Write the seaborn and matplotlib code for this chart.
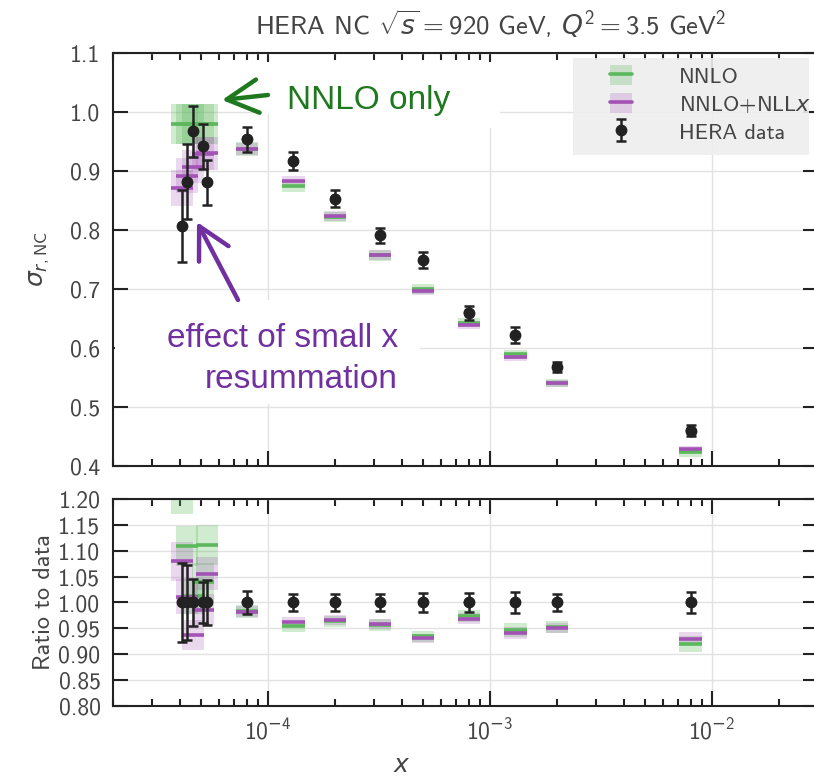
import numpy as np
import matplotlib
matplotlib.use("Agg")
import matplotlib.pyplot as plt
import matplotlib.ticker as mticker
import seaborn as sns
from matplotlib.lines import Line2D
from matplotlib.patches import Patch, Rectangle, FancyArrowPatch, ArrowStyle

# ---------------- data ----------------
x_vals = np.array([4.1e-5, 4.3e-5, 4.6e-5, 5.1e-5, 5.3e-5, 8.0e-5, 1.3e-4, 2.0e-4,
                   3.2e-4, 5.0e-4, 8.0e-4, 1.3e-3, 2.0e-3, 8.0e-3])
hera_data = np.array([0.807, 0.882, 0.967, 0.942, 0.881, 0.954, 0.917, 0.853,
                      0.791, 0.749, 0.660, 0.622, 0.568, 0.460])
hera_err = np.array([0.061, 0.064, 0.044, 0.038, 0.038, 0.021, 0.015, 0.014,
                     0.013, 0.014, 0.012, 0.013, 0.009, 0.009])
nnlo = np.array([0.979, 0.979, 0.979, 0.979, 0.979, 0.938, 0.875, 0.822,
                 0.757, 0.700, 0.643, 0.589, 0.541, 0.423])
nnlo_err = np.array([0.034, 0.034, 0.034, 0.034, 0.034, 0.012, 0.010, 0.009,
                     0.009, 0.008, 0.008, 0.008, 0.007, 0.007])
nllx = np.array([0.871, 0.892, 0.907, 0.929, 0.930, 0.937, 0.883, 0.824,
                 0.758, 0.697, 0.639, 0.585, 0.540, 0.428])
nllx_err = np.array([0.030, 0.030, 0.028, 0.028, 0.028, 0.010, 0.008, 0.008,
                     0.008, 0.007, 0.007, 0.007, 0.006, 0.006])

labels = ["NNLO", r"NNLO+NLL$x$", "HERA data"]
top_yticks = [0.4, 0.5, 0.6, 0.7, 0.8, 0.9, 1.0, 1.1]
bot_yticks = [0.80, 0.85, 0.90, 0.95, 1.00, 1.05, 1.10, 1.15, 1.20]

# ---------------- style ----------------
sns.set_style("ticks")
plt.rcParams["font.family"] = ["cmss10", "DejaVu Sans"]
plt.rcParams["mathtext.fontset"] = "custom"
plt.rcParams["mathtext.rm"] = "cmss10"
plt.rcParams["mathtext.sf"] = "cmss10"
plt.rcParams["mathtext.it"] = "DejaVu Sans:italic"
plt.rcParams["mathtext.bf"] = "DejaVu Sans:bold"
plt.rcParams["mathtext.tt"] = "DejaVu Sans"
plt.rcParams["axes.unicode_minus"] = False

GREEN = "#5cb85c"
PURPLE = "#a352b5"
DATA_C = "#222222"
TXT = "#444444"
ANN_GREEN = "#1e781e"
ANN_PURPLE = "#7030a0"

W, H = 814, 782
fig = plt.figure(figsize=(W / 100, H / 100), dpi=100)


def fx(px):
    return px / W


def fy(py):
    return 1 - py / H


L, R = 113, 818
ax1 = fig.add_axes([fx(L), fy(466), (R - L) / W, (466 - 53) / H])
ax2 = fig.add_axes([fx(L), fy(706), (R - L) / W, (706 - 499) / H], sharex=ax1)

for ax in (ax1, ax2):
    ax.set_xscale("log")
ax1.set_xlim(2e-5, 3e-2)

half = 10 ** 0.05
lo = x_vals / half
hi = x_vals * half


def draw_panel(ax, nn, nn_e, nl, nl_e, d, d_e):
    ax.bar(lo, 2 * nn_e, width=hi - lo, bottom=nn - nn_e, align="edge",
           color=GREEN, alpha=0.28, linewidth=0, zorder=1)
    ax.bar(lo, 2 * nl_e, width=hi - lo, bottom=nl - nl_e, align="edge",
           color=PURPLE, alpha=0.22, linewidth=0, zorder=1)
    ax.hlines(nn, lo, hi, color=GREEN, lw=2.6, zorder=2)
    ax.hlines(nl, lo, hi, color=PURPLE, lw=2.6, zorder=2)
    eb = ax.errorbar(x_vals, d, yerr=d_e, fmt="o", color=DATA_C, ms=7.5,
                     elinewidth=1.8, capsize=3.4, capthick=1.8, zorder=3)
    sns.scatterplot(x=x_vals, y=d, ax=ax, color=DATA_C, s=52,
                    edgecolor="none", zorder=4, legend=False)
    return eb


eb = draw_panel(ax1, nnlo, nnlo_err, nllx, nllx_err, hera_data, hera_err)
draw_panel(ax2, nnlo / hera_data, nnlo_err / hera_data,
           nllx / hera_data, nllx_err / hera_data,
           hera_data / hera_data, hera_err / hera_data)

ax1.set_ylim(0.4, 1.1)
ax2.set_ylim(0.8, 1.2)
ax1.set_yticks(top_yticks)
ax2.set_yticks(bot_yticks)
ax1.yaxis.set_major_formatter(mticker.FormatStrFormatter("%.1f"))
ax2.yaxis.set_major_formatter(mticker.FormatStrFormatter("%.2f"))


def log_fmt(v, pos):
    e = int(round(np.log10(v)))
    if e < 0:
        return r"$10^{\mathtt{-}%d}$" % (-e)
    return r"$10^{%d}$" % e


for ax in (ax1, ax2):
    ax.xaxis.set_major_locator(mticker.LogLocator(base=10, numticks=20))
    ax.xaxis.set_minor_locator(mticker.LogLocator(base=10, subs=np.arange(2, 10), numticks=20))
    ax.xaxis.set_major_formatter(mticker.FuncFormatter(log_fmt))
    ax.yaxis.set_minor_locator(mticker.NullLocator())
    ax.tick_params(which="both", direction="in", top=True, right=True,
                   width=1.5, color=DATA_C, labelcolor=TXT, labelsize=17)
    ax.tick_params(which="major", length=10.5)
    ax.tick_params(which="minor", length=5)
    ax.tick_params(axis="y", pad=9)
    ax.tick_params(axis="x", pad=9)
    ax.grid(True, which="major", color="#e2e2e2", lw=1.0)
    ax.set_axisbelow(True)
    for s in ax.spines.values():
        s.set_linewidth(1.5)
        s.set_color(DATA_C)
ax1.tick_params(labelbottom=False)

ax1.set_ylabel(r"$\sigma_{r,\mathrm{NC}}$", fontsize=18, color=TXT)
ax1.yaxis.set_label_coords((52 - L) / (R - L), 0.5)
ax2.set_ylabel("Ratio to data", fontsize=17.5, color=TXT)
ax2.yaxis.set_label_coords((55 - L) / (R - L), 0.5)
ax2.set_xlabel(r"$x$", fontsize=18, color=TXT)
ax2.xaxis.set_label_coords((402 - L) / (R - L), (706 - 754) / (706 - 499))

# legend
bg = Rectangle(((573 - L) / (R - L), 1 - (155 - 53) / 413), (809 - 573) / (R - L),
               (155 - 58) / 413, transform=ax1.transAxes, facecolor="#eeeeee",
               edgecolor="none", alpha=0.9, zorder=4.5)
ax1.add_patch(bg)
h_nn = (Patch(facecolor=GREEN, alpha=0.28, lw=0), Line2D([], [], color=GREEN, lw=2.6))
h_nl = (Patch(facecolor=PURPLE, alpha=0.22, lw=0), Line2D([], [], color=PURPLE, lw=2.6))
leg = ax1.legend([h_nn, h_nl, eb], labels, loc="upper left",
                 bbox_to_anchor=((610 - L) / (R - L), 1 - (65 - 53) / 413),
                 frameon=False, fontsize=16, handlelength=1.0, handleheight=1.0,
                 handletextpad=2.1, labelspacing=0.3, borderpad=0, borderaxespad=0)
for t in leg.get_texts():
    t.set_color(TXT)
leg.set_zorder(5)

# title
fig.text(fx(491), fy(24), r"HERA NC $\sqrt{s} = 920$ GeV, $Q^2 = 3.5$ GeV$^2$",
         ha="center", va="center", fontsize=19.2, color=TXT)

# white annotation boxes
for (x0, y0, x1, y1) in [(262, 62, 290, 114), (280, 62, 500, 128), (115, 300, 420, 404)]:
    fig.patches.append(Rectangle((fx(x0), fy(y1)), (x1 - x0) / W, (y1 - y0) / H,
                                 transform=fig.transFigure, facecolor="white",
                                 edgecolor="none", zorder=5))

# annotations
fig.text(fx(287), fy(109), "NNLO only", ha="left", va="baseline",
         fontsize=24, color=ANN_GREEN, family="Liberation Sans", zorder=7)
fig.text(fx(398), fy(347), "effect of small x", ha="right", va="baseline",
         fontsize=24, color=ANN_PURPLE, family="Liberation Sans", zorder=7)
fig.text(fx(398), fy(388), "resummation", ha="right", va="baseline",
         fontsize=24, color=ANN_PURPLE, family="Liberation Sans", zorder=7)

style = ArrowStyle("->", head_length=0.75, head_width=0.4)
fig.patches.append(FancyArrowPatch((fx(268), fy(95)), (fx(222), fy(100)),
                                   transform=fig.transFigure, arrowstyle=style,
                                   mutation_scale=30, lw=3.2, color=ANN_GREEN,
                                   shrinkA=0, shrinkB=0, zorder=8))
fig.patches.append(FancyArrowPatch((fx(238), fy(300)), (fx(197), fy(222)),
                                   transform=fig.transFigure, arrowstyle=style,
                                   mutation_scale=30, lw=3.2, color=ANN_PURPLE,
                                   shrinkA=0, shrinkB=0, zorder=8))

fig.savefig("out.png", dpi=100)
